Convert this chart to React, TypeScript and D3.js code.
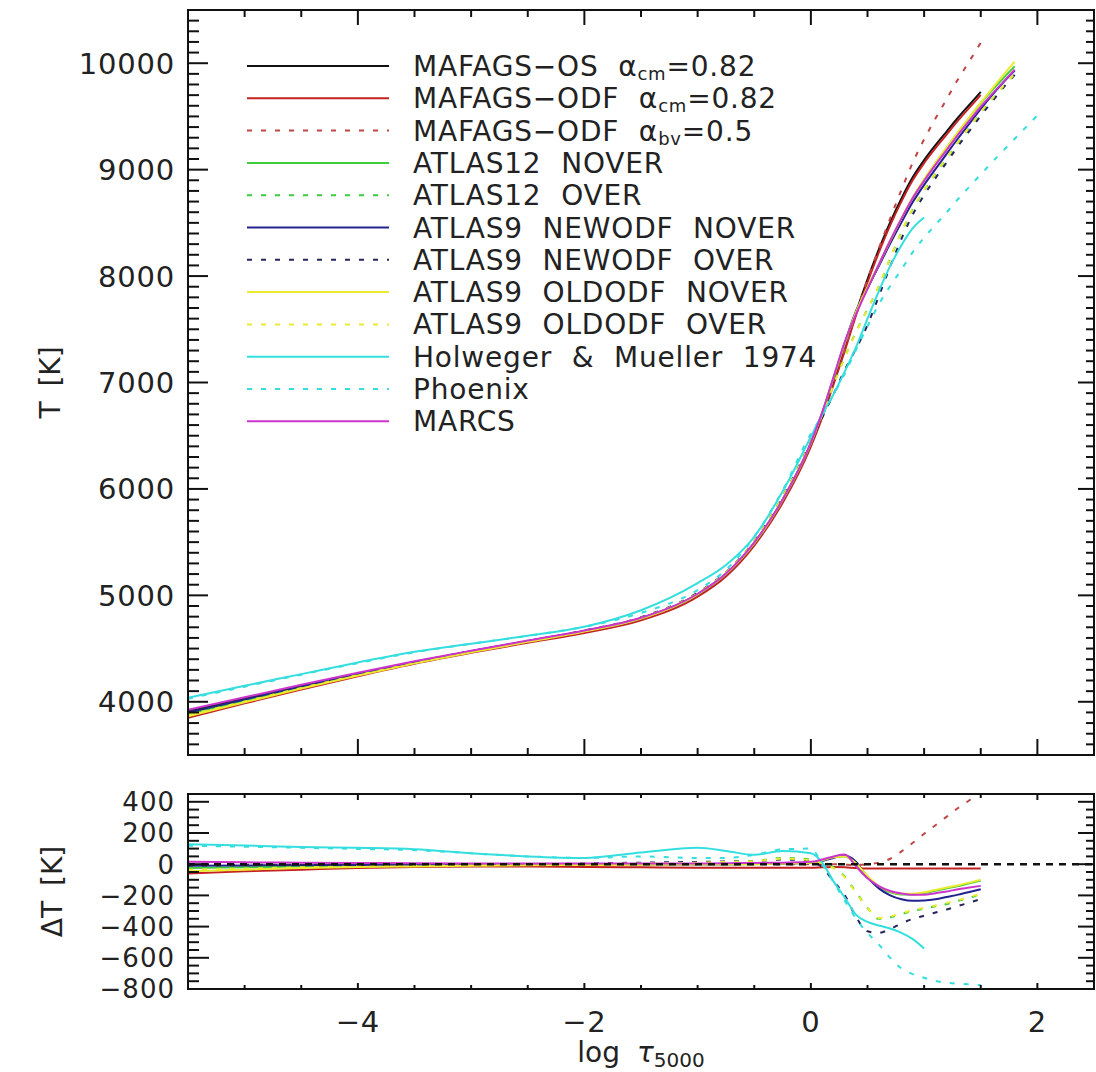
import React from "react";
import * as d3 from "d3";

// ---------- data ----------
const LOG_TAU = [-5.5, -5, -4.5, -4, -3.5, -3, -2.5, -2, -1.5, -1, -0.75, -0.5, -0.25, 0, 0.1, 0.2, 0.3, 0.4, 0.5, 0.6, 0.7, 0.8, 0.9, 1.0, 1.1, 1.2, 1.3, 1.4, 1.5, 1.6, 1.7, 1.8, 1.9, 2.0];

// Temperature T [K] per model (top panel)
const T_MAFAGS_OS = [3910, 4030, 4150, 4265, 4375, 4475, 4570, 4665, 4785, 5010, 5200, 5490, 5890, 6420, 6690, 7000, 7320, 7660, 7970, 8250, 8505, 8730, 8930, 9090, 9230, 9360, 9490, 9610, 9730];
const T_MAFAGS_ODF = [3850, 3985, 4115, 4240, 4357, 4460, 4555, 4647, 4765, 4988, 5178, 5468, 5868, 6398, 6670, 6982, 7300, 7635, 7942, 8222, 8477, 8702, 8902, 9062, 9202, 9332, 9462, 9582, 9702];
const T_MAFAGS_BV = [3890, 4015, 4140, 4260, 4372, 4475, 4570, 4665, 4785, 5010, 5200, 5490, 5890, 6420, 6690, 7000, 7317, 7655, 7970, 8260, 8540, 8812, 9067, 9285, 9480, 9665, 9850, 10020, 10192];
const T_ATLAS12_NOVER = [3885, 4010, 4135, 4255, 4367, 4470, 4567, 4665, 4785, 5010, 5200, 5490, 5895, 6430, 6715, 7045, 7370, 7665, 7890, 8105, 8325, 8535, 8735, 8905, 9060, 9205, 9350, 9488, 9625, 9745, 9860, 9970];
const T_ATLAS12_OVER = [3895, 4018, 4140, 4257, 4370, 4472, 4570, 4665, 4790, 5020, 5215, 5510, 5930, 6450, 6700, 6980, 7240, 7480, 7690, 7900, 8165, 8410, 8630, 8805, 8960, 9105, 9255, 9395, 9535, 9660, 9780, 9895];
const T_ATLAS9_NEW_NOVER = [3900, 4022, 4144, 4260, 4372, 4475, 4570, 4665, 4785, 5010, 5200, 5492, 5895, 6430, 6710, 7040, 7375, 7675, 7885, 8095, 8305, 8505, 8695, 8857, 9005, 9150, 9295, 9432, 9570, 9700, 9820, 9930];
const T_ATLAS9_NEW_OVER = [3905, 4026, 4147, 4263, 4375, 4475, 4570, 4670, 4795, 5025, 5218, 5510, 5920, 6440, 6670, 6890, 7120, 7320, 7540, 7810, 8090, 8350, 8580, 8760, 8920, 9070, 9222, 9364, 9506, 9640, 9770, 9890];
const T_ATLAS9_OLD_NOVER = [3865, 3995, 4125, 4247, 4361, 4465, 4563, 4660, 4782, 5010, 5200, 5490, 5895, 6430, 6715, 7045, 7370, 7665, 7895, 8110, 8330, 8540, 8740, 8910, 9065, 9210, 9355, 9492, 9630, 9760, 9890, 10015];
const T_ATLAS9_OLD_OVER = [3875, 4002, 4130, 4250, 4365, 4468, 4566, 4665, 4790, 5020, 5215, 5510, 5925, 6445, 6695, 6975, 7235, 7475, 7690, 7905, 8170, 8415, 8635, 8810, 8965, 9112, 9260, 9400, 9540, 9665, 9785, 9900];
const T_HM74 = [4038, 4150, 4260, 4370, 4471, 4545, 4620, 4705, 4860, 5115, 5285, 5550, 5975, 6490, 6700, 6890, 7105, 7335, 7600, 7857, 8093, 8290, 8450, 8550];
const T_PHOENIX = [4028, 4142, 4255, 4363, 4465, 4545, 4620, 4705, 4835, 5050, 5240, 5550, 5985, 6520, 6690, 6885, 7085, 7310, 7530, 7735, 7905, 8062, 8225, 8362, 8482, 8600, 8724, 8840, 8955, 9070, 9180, 9290, 9400, 9510];
const T_MARCS = [3925, 4042, 4160, 4273, 4381, 4480, 4575, 4670, 4790, 5015, 5206, 5498, 5900, 6435, 6720, 7050, 7382, 7645, 7880, 8110, 8333, 8542, 8734, 8894, 9044, 9185, 9330, 9460, 9591, 9710, 9825, 9940];

// Temperature difference ΔT [K] relative to MAFAGS-OS (bottom panel)
const DT_MAFAGS_ODF = [-60, -45, -35, -25, -18, -15, -15, -18, -20, -22, -22, -22, -22, -22, -20, -18, -20, -25, -28, -28, -28, -28, -28, -28, -28, -28, -28, -28, -28];
const DT_MAFAGS_BV = [-20, -15, -10, -5, -3, 0, 0, 0, 0, 0, 0, 0, 0, 0, 0, 0, -3, -5, 0, 10, 35, 82, 137, 195, 250, 305, 360, 410, 462];
const DT_ATLAS12_NOVER = [-25, -20, -15, -10, -8, -5, -3, 0, 0, 0, 0, 0, 5, 10, 25, 45, 50, 5, -80, -145, -180, -195, -195, -185, -170, -155, -140, -122, -105];
const DT_ATLAS12_OVER = [-15, -12, -10, -8, -5, -3, 0, 0, 5, 10, 15, 20, 40, 30, 10, -20, -80, -180, -280, -350, -340, -320, -300, -285, -270, -255, -235, -215, -195];
const DT_ATLAS9_NEW_NOVER = [-10, -8, -6, -5, -3, 0, 0, 0, 0, 0, 0, 2, 5, 10, 20, 40, 55, 15, -85, -155, -200, -225, -235, -233, -225, -210, -195, -178, -160];
const DT_ATLAS9_NEW_OVER = [-5, -4, -3, -2, 0, 0, 0, 5, 10, 15, 18, 20, 30, 20, -20, -110, -200, -340, -430, -440, -415, -380, -350, -330, -310, -290, -268, -246, -224];
const DT_ATLAS9_OLD_NOVER = [-45, -35, -25, -18, -14, -10, -7, -5, -3, 0, 0, 0, 5, 10, 25, 45, 50, 5, -75, -140, -175, -190, -190, -180, -165, -150, -135, -118, -100];
const DT_ATLAS9_OLD_OVER = [-35, -28, -20, -15, -10, -7, -4, 0, 5, 10, 15, 20, 35, 25, 5, -25, -85, -185, -280, -345, -335, -315, -295, -280, -265, -248, -230, -210, -190];
const DT_HM74 = [128, 120, 110, 105, 96, 70, 50, 40, 75, 105, 85, 60, 85, 70, 10, -110, -215, -325, -370, -393, -412, -440, -480, -540];
const DT_PHOENIX = [118, 112, 105, 98, 90, 70, 50, 40, 50, 40, 40, 60, 95, 100, 0, -115, -235, -350, -440, -515, -600, -668, -705, -728, -748, -760, -766, -770, -775];
const DT_MARCS = [15, 12, 10, 8, 6, 5, 5, 5, 5, 5, 6, 8, 10, 15, 30, 50, 62, -15, -90, -140, -172, -188, -196, -196, -186, -175, -160, -150, -139];

const MODEL_LABELS = [
  ["MAFAGS−OS ", "α", "cm", "=0.82"],
  ["MAFAGS−ODF ", "α", "cm", "=0.82"],
  ["MAFAGS−ODF ", "α", "bv", "=0.5"],
  ["ATLAS12 NOVER"],
  ["ATLAS12 OVER"],
  ["ATLAS9 NEWODF NOVER"],
  ["ATLAS9 NEWODF OVER"],
  ["ATLAS9 OLDODF NOVER"],
  ["ATLAS9 OLDODF OVER"],
  ["Holweger & Mueller 1974"],
  ["Phoenix"],
  ["MARCS"],
];
const T_SERIES = [T_MAFAGS_OS, T_MAFAGS_ODF, T_MAFAGS_BV, T_ATLAS12_NOVER, T_ATLAS12_OVER, T_ATLAS9_NEW_NOVER, T_ATLAS9_NEW_OVER, T_ATLAS9_OLD_NOVER, T_ATLAS9_OLD_OVER, T_HM74, T_PHOENIX, T_MARCS];
const DT_SERIES = [null, DT_MAFAGS_ODF, DT_MAFAGS_BV, DT_ATLAS12_NOVER, DT_ATLAS12_OVER, DT_ATLAS9_NEW_NOVER, DT_ATLAS9_NEW_OVER, DT_ATLAS9_OLD_NOVER, DT_ATLAS9_OLD_OVER, DT_HM74, DT_PHOENIX, DT_MARCS];

const X_TICK_LABELS = [-4, -2, 0, 2];
const T_TICK_LABELS = [4000, 5000, 6000, 7000, 8000, 9000, 10000];
const DT_TICK_LABELS = [-800, -600, -400, -200, 0, 200, 400];

// ---------- styles ----------
const STYLES = [
  { color: "#111111", dash: null },
  { color: "#c42222", dash: null },
  { color: "#c04545", dash: "5,9" },
  { color: "#3ccc3c", dash: null },
  { color: "#3ccc3c", dash: "5,9" },
  { color: "#232390", dash: null },
  { color: "#25255e", dash: "5,9" },
  { color: "#eaea30", dash: null },
  { color: "#eaea30", dash: "5,9" },
  { color: "#35dede", dash: null },
  { color: "#35dede", dash: "5,9" },
  { color: "#cc35cc", dash: null },
];

const FONT = "'DejaVu Sans', sans-serif";
const TXT = "#222";

const fmt = (v: number) => (v < 0 ? "−" + Math.abs(v) : String(v));

export default function App() {
  const W = 1096, H = 1072;
  const L = 188, R = 1094;
  const topT = 10, topB = 755;
  const botT = 794, botB = 989;

  const x = d3.scaleLinear().domain([-5.5, 2.5]).range([L, R]);
  const yT = d3.scaleLinear().domain([3500, 10500]).range([topB, topT]);
  const yD = d3.scaleLinear().domain([-800, 450]).range([botB, botT]);

  const mkLine = (y: d3.ScaleLinear<number, number>) =>
    d3
      .line<[number, number | null]>()
      .defined((d) => d[1] != null)
      .x((d) => x(d[0]))
      .y((d) => y(d[1] as number))
      .curve(d3.curveMonotoneX);

  const lineT = mkLine(yT);
  const lineD = mkLine(yD);
  const pairs = (vals: number[]) => LOG_TAU.map((t, i) => [t, i < vals.length ? vals[i] : null] as [number, number | null]);

  const xTicks = d3.range(-5, 2.01, 0.5);
  const isMajorX = (v: number) => Math.abs(v / 2 - Math.round(v / 2)) < 1e-9;

  const tTicks = d3.range(3600, 10500, 100);
  const dTicks = d3.range(-750, 450, 50);

  const tick = (x1: number, y1: number, x2: number, y2: number, k: string) => (
    <line key={k} x1={x1} y1={y1} x2={x2} y2={y2} stroke="#111" strokeWidth={2} />
  );

  const frame = (t: number, b: number) => (
    <rect x={L} y={t} width={R - L} height={b - t} fill="none" stroke="#111" strokeWidth={2} />
  );

  const legendY = (i: number) => 66 + i * 32.3;

  return (
    <svg width={W} height={H} style={{ position: "absolute", left: 0, top: 0, background: "#fff" }} fontFamily={FONT}>
      <rect x={0} y={0} width={W} height={H} fill="#fff" />
      <defs>
        <clipPath id="clipTop">
          <rect x={L} y={topT} width={R - L} height={topB - topT} />
        </clipPath>
        <clipPath id="clipBot">
          <rect x={L} y={botT} width={R - L} height={botB - botT} />
        </clipPath>
      </defs>

      {/* ---------- top panel curves ---------- */}
      <g clipPath="url(#clipTop)">
        {T_SERIES.map((s, i) => (
          <path
            key={"t" + i}
            d={lineT(pairs(s)) || ""}
            fill="none"
            stroke={STYLES[i].color}
            strokeWidth={2}
            strokeDasharray={STYLES[i].dash || undefined}
          />
        ))}
      </g>

      {/* ---------- bottom panel curves ---------- */}
      <g clipPath="url(#clipBot)">
        {DT_SERIES.map((s, i) =>
          s ? (
            <path
              key={"d" + i}
              d={lineD(pairs(s)) || ""}
              fill="none"
              stroke={STYLES[i].color}
              strokeWidth={2}
              strokeDasharray={STYLES[i].dash || undefined}
            />
          ) : null
        )}
        <line x1={L} x2={R} y1={yD(0)} y2={yD(0)} stroke="#111" strokeWidth={2.5} strokeDasharray="7,6" />
      </g>

      {/* ---------- legend ---------- */}
      {MODEL_LABELS.map((lab, i) => {
        const yy = legendY(i);
        return (
          <g key={"lg" + i}>
            <line x1={247} x2={389} y1={yy} y2={yy} stroke={STYLES[i].color} strokeWidth={2} strokeDasharray={STYLES[i].dash || undefined} />
            <text x={413} y={yy} dy="0.36em" fontSize={28} fill={TXT} letterSpacing={0.8} style={{ wordSpacing: "10px" }}>
              {lab.length === 1 ? (
                lab[0]
              ) : (
                <>
                  {lab[0]}
                  <tspan>{lab[1]}</tspan>
                  <tspan fontSize={18} dy={4}>{lab[2]}</tspan>
                  <tspan dy={-4}>{lab[3]}</tspan>
                </>
              )}
            </text>
          </g>
        );
      })}

      {/* ---------- frames & ticks: top panel ---------- */}
      {frame(topT, topB)}
      {tTicks.map((v) => {
        const major = v % 1000 === 0;
        const yy = yT(v);
        return (
          <g key={"tt" + v}>
            {tick(L, yy, L + (major ? 20 : 11), yy, "l")}
            {tick(R, yy, R - (major ? 16 : 8), yy, "r")}
          </g>
        );
      })}
      {xTicks.map((v) => {
        const major = isMajorX(v);
        const xx = x(v);
        return (
          <g key={"xt" + v}>
            {tick(xx, topT, xx, topT + (major ? 15 : 7), "t")}
            {tick(xx, topB, xx, topB - (major ? 16 : 7), "b")}
          </g>
        );
      })}
      {T_TICK_LABELS.map((v) => (
        <text key={"tl" + v} x={175} y={yT(v)} dy="0.36em" textAnchor="end" fontSize={29} fill={TXT} letterSpacing={0.8}>
          {fmt(v)}
        </text>
      ))}

      {/* ---------- frames & ticks: bottom panel ---------- */}
      {frame(botT, botB)}
      {dTicks.map((v) => {
        const major = v % 200 === 0;
        const yy = yD(v);
        return (
          <g key={"dt" + v}>
            {tick(L, yy, L + (major ? 21 : 11), yy, "l")}
            {tick(R, yy, R - (major ? 16 : 8), yy, "r")}
          </g>
        );
      })}
      {xTicks.map((v) => {
        const major = isMajorX(v);
        const xx = x(v);
        return (
          <g key={"xb" + v}>
            {tick(xx, botT, xx, botT + (major ? 6 : 4), "t")}
            {tick(xx, botB, xx, botB - (major ? 6 : 4), "b")}
          </g>
        );
      })}
      {DT_TICK_LABELS.map((v) => (
        <text key={"dl" + v} x={175} y={yD(v)} dy="0.36em" textAnchor="end" fontSize={26} fill={TXT} letterSpacing={1}>
          {fmt(v)}
        </text>
      ))}
      {X_TICK_LABELS.map((v) => (
        <text key={"xl" + v} x={x(v)} y={1032} textAnchor="middle" fontSize={29} fill={TXT} letterSpacing={0.8}>
          {fmt(v)}
        </text>
      ))}

      {/* ---------- axis titles ---------- */}
      <text transform={`translate(60, ${(topT + topB) / 2}) rotate(-90)`} textAnchor="middle" fontSize={28} fill={TXT} style={{ wordSpacing: "6px" }}>
        T [K]
      </text>
      <text transform={`translate(62, ${(botT + botB) / 2}) rotate(-90)`} textAnchor="middle" fontSize={28} fill={TXT} style={{ wordSpacing: "6px" }}>
        ΔT [K]
      </text>
      <text x={(L + R) / 2} y={1062} textAnchor="middle" fontSize={28} fill={TXT} style={{ wordSpacing: "8px" }}>
        log <tspan fontStyle="italic">τ</tspan>
        <tspan fontSize={20} dy={5}>5000</tspan>
      </text>
    </svg>
  );
}
